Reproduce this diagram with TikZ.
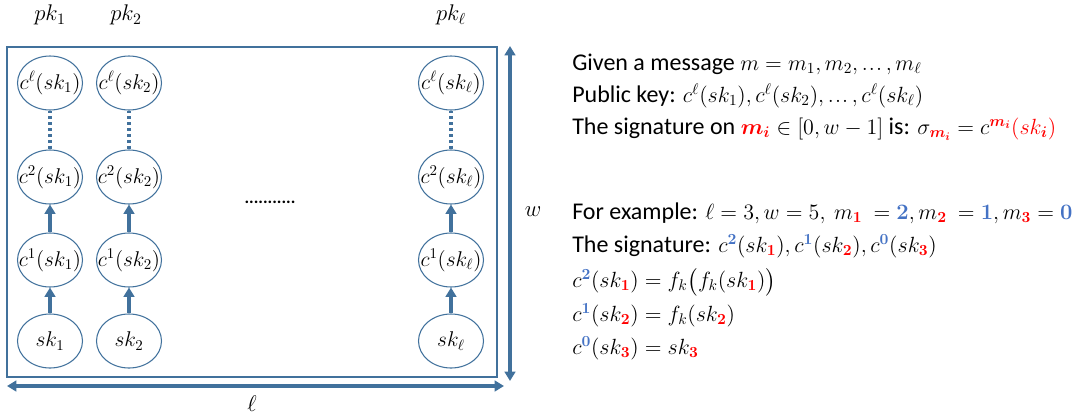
\RequirePackage{fix-cm}
\documentclass[tikz,border=0pt]{standalone}
\usepackage{amsmath,bm}
\usepackage{fontspec}
\setmainfont{Carlito}
\usetikzlibrary{shapes.geometric,arrows.meta,calc}
\definecolor{lineblue}{HTML}{41719C}
\definecolor{numblue}{HTML}{4472C4}
\definecolor{sigred}{HTML}{FF0000}
\newcommand{\rd}[1]{{\color{sigred}\bm{#1}}}
\newcommand{\bl}[1]{{\color{numblue}\bm{#1}}}
\newcommand{\mt}[1]{{\fontsize{16.5}{20}\selectfont$#1$}}
\newcommand{\cdts}{\mathinner{{.}\mkern1mu{.}\mkern1mu{.}}}
\newcommand{\inl}[1]{\makebox[0pt]{$#1$}}
\begin{document}
\begin{tikzpicture}[x=0.75pt,y=-0.75pt,
  chain/.style={draw=lineblue,line width=0.8pt,ellipse,minimum width=48.75pt,minimum height=40.5pt,inner sep=0pt,font=\fontsize{16}{19}\selectfont},
  arr/.style={draw=lineblue,line width=2.4pt,-{Triangle[width=8pt,length=7pt]}},
  dotline/.style={draw=lineblue,line width=2.4pt,dash pattern=on 2.2pt off 2.2pt},
  dim/.style={draw=lineblue,line width=2.4pt,{Triangle[width=8pt,length=7pt]}-{Triangle[width=8pt,length=7pt]}},
  lbl/.style={font=\fontsize{17}{20}\selectfont},
  txt/.style={anchor=west,inner sep=0pt,font=\fontsize{18}{22}\selectfont}]
\useasboundingbox (0,0) rectangle (1092,415);
% frame
\node[draw=lineblue,line width=1.1pt,minimum width=367.5pt,minimum height=247.5pt,inner sep=0pt] (box) at (252,212) {};
% top labels
\node[lbl] (pk1) at (50,15) {$pk_1$};
\node[lbl] (pk2) at (126,15) {$pk_2$};
\node[lbl] (pkl) at (451,15) {$pk_\ell$};
% columns
\foreach \n/\x/\s in {1/50/1,2/129/2,l/451/\ell}{
  \node[chain] (t\n) at (\x,83) {\inl{c^\ell(sk_{\s})}};
  \node[chain] (u\n) at (\x,177) {\inl{c^2(sk_{\s})}};
  \node[chain] (v\n) at (\x,260) {\inl{c^1(sk_{\s})}};
  \node[chain] (w\n) at (\x,341) {\inl{sk_{\s}}};
  \draw[dotline] (t\n) -- (u\n);
  \draw[arr] (v\n) -- (u\n);
  \draw[arr] (w\n) -- (v\n);
}
\node[font=\fontsize{13}{15}\selectfont] (dots) at (270,202) {\textbf{...........}};
% dimension arrows
\coordinate (hl) at (7,386);
\coordinate (hr) at (504,386);
\draw[dim] (hl) -- (hr);
\node[lbl] (ell) at (252,404) {$\ell$};
\coordinate (vt) at (510,46);
\coordinate (vb) at (510,381);
\draw[dim] (vt) -- (vb);
\node[lbl] (wl) at (533,212) {$w$};
% right text
\node[txt] (l1) at (572,64) {Given a message \mt{m=m_1,m_2,\cdts,m_\ell}};
\node[txt] (l2) at (572,96) {Public key: \mt{c^\ell(sk_1),c^\ell(sk_2),\cdts,c^\ell(sk_\ell)}};
\node[txt] (l3) at (572,129) {The signature on \mt{\rd{m_i}\in[0,w-1]} is: \mt{\sigma_{\rd{m_i}}=c^{\rd{m_i}}{\color{sigred}(sk_{\bm{i}})}}};
\node[txt] (l4) at (572,213) {For example: \mt{\ell=3,w=5,\ m_{\rd{1}}\ =\bl{2},m_{\rd{2}}\ =\bl{1},m_{\rd{3}}=\bl{0}}};
\node[txt] (l5) at (572,246) {The signature: \mt{c^{\bl{2}}(sk_{\rd{1}}),c^{\bl{1}}(sk_{\rd{2}}),c^{\bl{0}}(sk_{\rd{3}})}};
\node[txt] (l6) at (572,282) {\mt{c^{\bl{2}}(sk_{\rd{1}})=f_k\bigl(f_k(sk_{\rd{1}})\bigr)}};
\node[txt] (l7) at (572,315) {\mt{c^{\bl{1}}(sk_{\rd{2}})=f_k(sk_{\rd{2}})}};
\node[txt] (l8) at (572,348) {\mt{c^{\bl{0}}(sk_{\rd{3}})=sk_{\rd{3}}}};
\end{tikzpicture}
\end{document}
